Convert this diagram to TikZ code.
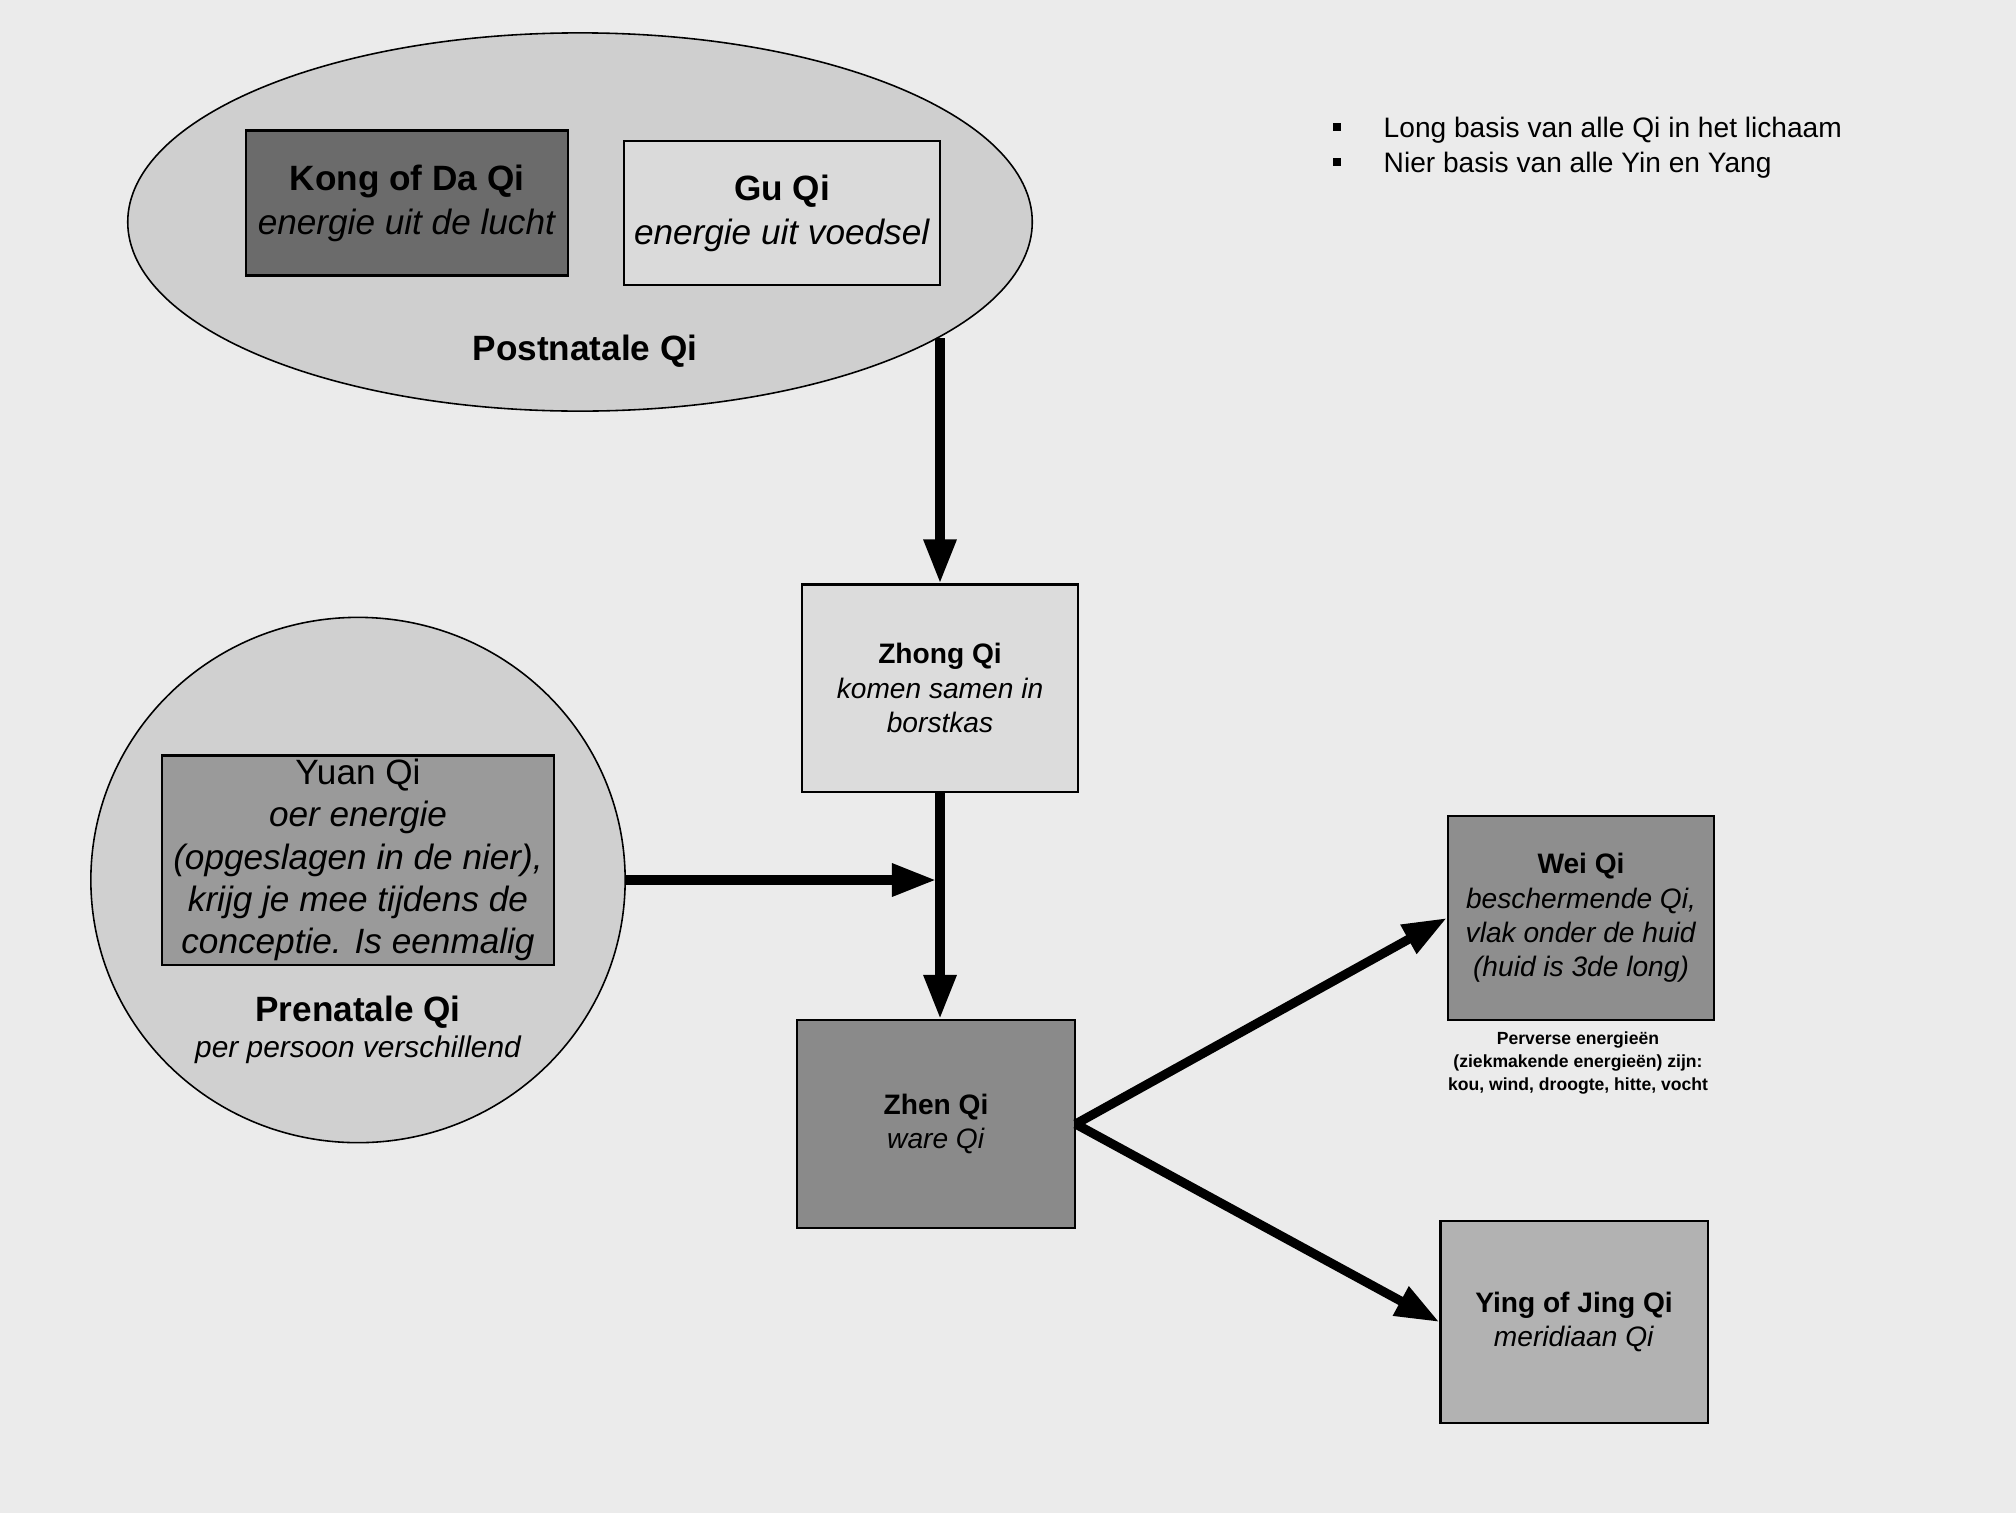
\documentclass[tikz,border=0pt]{standalone}
\usepackage{fontspec}
\setmainfont{Liberation Sans}
\usetikzlibrary{arrows.meta,shapes.geometric}
\definecolor{paper}{HTML}{EBEBEB}
\definecolor{postfill}{HTML}{CFCFCF}
\definecolor{kongfill}{HTML}{6B6B6B}
\definecolor{gufill}{HTML}{DADADA}
\definecolor{zhongfill}{HTML}{DCDCDC}
\definecolor{prefill}{HTML}{D0D0D0}
\definecolor{yuanfill}{HTML}{9A9A9A}
\definecolor{zhenfill}{HTML}{8A8A8A}
\definecolor{weifill}{HTML}{8E8E8E}
\definecolor{yingfill}{HTML}{B2B2B2}
\newcommand{\fsBig}{\fontsize{10}{12.5}\selectfont}
\newcommand{\fsYuan}{\fontsize{10}{12}\selectfont}
\newcommand{\fsMid}{\fontsize{8.5}{10}\selectfont}
\newcommand{\fsBox}{\fontsize{8}{9.8}\selectfont}
\newcommand{\fsBul}{\fontsize{8}{10}\selectfont}
\newcommand{\fsTiny}{\fontsize{5}{6.5}\selectfont}
\begin{document}
\begin{tikzpicture}[x=0.01cm,y=-0.01cm,
  qibox/.style={draw=black, line width=0.6pt, rectangle, inner sep=0pt, align=center},
  blob/.style={draw=black, line width=0.45pt, ellipse, inner sep=0pt},
  arr/.style={line width=2.6pt, -{Triangle[length=0.44cm,width=0.31cm]}},
  lbl/.style={inner sep=0pt, align=center},
  bul/.style={fill=black, minimum size=0.08cm, inner sep=0pt},
  bultext/.style={inner sep=0pt, anchor=base west, font=\fsBul}]
\useasboundingbox (0,0) rectangle (2016,1512);
\fill[paper] (-20,-20) rectangle (2036,1532);

% Postnatale Qi
\node[blob, fill=postfill, minimum width=9.04cm, minimum height=3.78cm] (post) at (580,222) {};
\node[qibox, fill=kongfill, minimum width=3.22cm, minimum height=1.45cm, font=\fsBig] (kong) at (407,203)
  {\textbf{Kong of Da Qi}\\\textit{energie uit de lucht}};
\node[qibox, fill=gufill, minimum width=3.15cm, minimum height=1.44cm, font=\fsBig] (gu) at (782,213)
  {\textbf{Gu Qi}\\\textit{energie uit voedsel}};
\node[lbl, font=\fsBig\bfseries] (postlbl) at (585,351) {Postnatale Qi};

% Bullets
\node[bul] (b1) at (1337,127) {};
\node[bultext] (t1) at (1383,137) {Long basis van alle Qi in het lichaam};
\node[bul] (b2) at (1337,162) {};
\node[bultext] (t2) at (1383,172) {Nier basis van alle Yin en Yang};

% Zhong Qi
\node[qibox, fill=zhongfill, minimum width=2.75cm, minimum height=2.07cm, font=\fsBox] (zhong) at (940,688)
  {\textbf{Zhong Qi}\\\textit{komen samen in}\\\textit{borstkas}};

% Prenatale Qi
\node[blob, fill=prefill, minimum width=5.34cm, minimum height=5.25cm] (pre) at (358,880) {};
\node[qibox, fill=yuanfill, minimum width=3.91cm, minimum height=2.09cm, font=\fsYuan] (yuan) at (358,860)
  {Yuan Qi\\\textit{oer energie}\\\textit{(opgeslagen in de nier),}\\\textit{krijg je mee tijdens de}\\\textit{conceptie. Is eenmalig}};
\node[lbl, font=\fsBig\bfseries] (prelbl) at (358,1012) {Prenatale Qi};
\node[lbl, font=\fsMid\itshape] (presub) at (358,1050) {per persoon verschillend};

% Zhen Qi
\node[qibox, fill=zhenfill, minimum width=2.77cm, minimum height=2.08cm, font=\fsBox] (zhen) at (936,1124)
  {\textbf{Zhen Qi}\\\textit{ware Qi}};

% Wei Qi
\node[qibox, fill=weifill, minimum width=2.66cm, minimum height=2.04cm, font=\fsBox] (wei) at (1581,918)
  {\textbf{Wei Qi}\\\textit{beschermende Qi,}\\\textit{vlak onder de huid}\\\textit{(huid is 3de long)}};
\node[lbl, font=\fsTiny\bfseries] (perv) at (1578,1063)
  {Perverse energieën\\(ziekmakende energieën) zijn:\\kou, wind, droogte, hitte, vocht};

% Ying Qi
\node[qibox, fill=yingfill, minimum width=2.67cm, minimum height=2.02cm, font=\fsBox] (ying) at (1574,1322)
  {\textbf{Ying of Jing Qi}\\\textit{meridiaan Qi}};

% Connectors
\coordinate (ptop) at (940,338);
\coordinate (join) at (936,880);
\draw[arr] (ptop) -- (zhong.north);
\draw[arr] (pre.east) -- (join);
\draw[arr] (zhong.south) -- (zhong.south |- zhen.north);
\draw[arr] (zhen.east) -- (wei.west);
\draw[arr] (zhen.east) -- (ying.west);
\end{tikzpicture}
\end{document}
